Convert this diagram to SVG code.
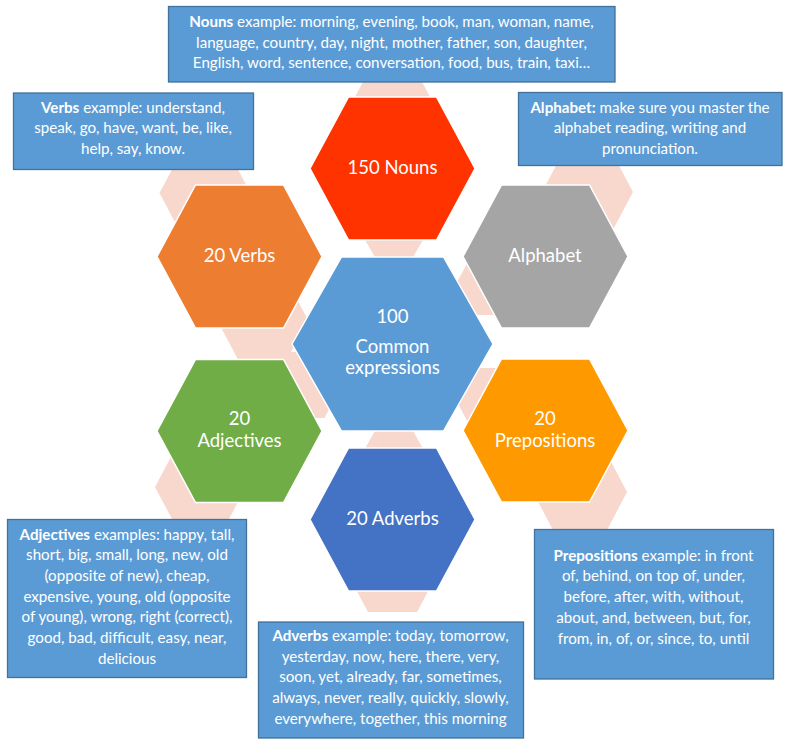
<svg xmlns="http://www.w3.org/2000/svg" width="791" height="748" viewBox="0 0 791 748">
<defs>
<style>
.pale{fill:#F8D7CD}
.hx{stroke:#FFFFFF;stroke-width:1.5}
.box{fill:#5B9BD5;stroke:#41719C;stroke-width:1.3}
.bt{font-family:Lato,"Liberation Sans",sans-serif;font-size:15.15px;fill:#FFFFFF;text-anchor:middle}
.ht{font-family:Lato,"Liberation Sans",sans-serif;font-size:18.5px;fill:#FFFFFF;text-anchor:middle}
.b{font-weight:bold}
</style>
<polygon id="hex" points="-44,-71.5 44,-71.5 82.5,0 44,71.5 -44,71.5 -82.5,0"/>
<polygon id="phex" points="-24.5,-39.4 24.5,-39.4 45.5,0 24.5,39.4 -24.5,39.4 -45.5,0"/>
</defs>
<rect width="791" height="748" fill="#FFFFFF"/>

<g id="connectors">
<use href="#phex" class="pale" transform="translate(392.5,112)"/>
<polygon class="pale" points="361.5,234 426.5,234 410,262 378,262"/>
<use href="#phex" class="pale" transform="translate(205,193)"/>
<use href="#phex" class="pale" transform="translate(262.5,320)"/>
<use href="#phex" class="pale" transform="translate(587.5,192)"/>
<polygon class="pale" points="471.5,255 515.5,255 531.5,285 515.5,315 471.5,315 455.5,285"/>
<polygon class="pale" points="473,368 515,368 532,400 515,432 473,432 456,400"/>
<polygon class="pale" points="554,452 606,452 627,492 606,532 554,532 533,492"/>
<use href="#phex" class="pale" transform="translate(200.5,487)"/>
<polygon class="pale" points="275.5,352 324.5,352 342,385 324.5,418 275.5,418 258,385"/>
<polygon class="pale" points="377.8,426 410.2,426 425.5,453 362.5,453"/>
<use href="#phex" class="pale" transform="translate(392.5,572.6)"/>
</g>

<g id="nouns">
<use href="#hex" class="hx" fill="#FF3300" transform="translate(392.5,168.5)"/>
<text class="ht" x="392.5" y="174">150 Nouns</text>
</g>
<g id="verbs">
<use href="#hex" class="hx" fill="#ED7D31" transform="translate(239.5,256.5)"/>
<text class="ht" x="239.5" y="262">20 Verbs</text>
</g>
<g id="alphabet">
<use href="#hex" class="hx" fill="#A5A5A5" transform="translate(545.5,256.5)"/>
<text class="ht" x="545" y="262">Alphabet</text>
</g>
<g id="adjectives">
<use href="#hex" class="hx" fill="#70AD47" transform="translate(239.5,431)"/>
<text class="ht" x="239.5" y="425">20</text>
<text class="ht" x="239.5" y="447">Adjectives</text>
</g>
<g id="prepositions">
<use href="#hex" class="hx" fill="#FF9900" transform="translate(545.5,430.5)"/>
<text class="ht" x="545" y="425">20</text>
<text class="ht" x="545" y="447">Prepositions</text>
</g>
<g id="adverbs">
<use href="#hex" class="hx" fill="#4472C4" transform="translate(392.5,519.5)"/>
<text class="ht" x="392.5" y="525">20 Adverbs</text>
</g>
<g id="common">
<polygon class="hx" fill="#5B9BD5" points="341.5,257 443.5,257 493,344 443.5,431 341.5,431 292,344"/>
<text class="ht" x="392.5" y="323">100</text>
<text class="ht" x="392.5" y="353">Common</text>
<text class="ht" x="392.5" y="374">expressions</text>
</g>

<g id="nouns-note">
<rect class="box" x="168.5" y="6.5" width="446.5" height="75.5"/>
<text class="bt" x="391.5" y="27"><tspan class="b">Nouns</tspan> example: morning, evening, book, man, woman, name,</text>
<text class="bt" x="391.5" y="47.5">language, country, day, night, mother, father, son, daughter,</text>
<text class="bt" x="391.5" y="68">English, word, sentence, conversation, food, bus, train, taxi…</text>
</g>
<g id="verbs-note">
<rect class="box" x="13.5" y="93" width="240" height="76.5"/>
<text class="bt" x="133" y="112.5"><tspan class="b">Verbs</tspan> example: understand,</text>
<text class="bt" x="133" y="133">speak, go, have, want, be, like,</text>
<text class="bt" x="133" y="153.5">help, say, know.</text>
</g>
<g id="alphabet-note">
<rect class="box" x="518.5" y="92.5" width="263.5" height="73"/>
<text class="bt" x="650" y="112.5"><tspan class="b">Alphabet:</tspan> make sure you master the</text>
<text class="bt" x="650" y="133">alphabet reading, writing and</text>
<text class="bt" x="650" y="153.5">pronunciation.</text>
</g>
<g id="adjectives-note">
<rect class="box" x="7.5" y="519.5" width="239" height="158"/>
<text class="bt" x="127" y="539.5"><tspan class="b">Adjectives</tspan> examples: happy, tall,</text>
<text class="bt" x="127" y="560.2">short, big, small, long, new, old</text>
<text class="bt" x="127" y="580.9">(opposite of new), cheap,</text>
<text class="bt" x="127" y="601.6">expensive, young, old (opposite</text>
<text class="bt" x="127" y="622.3">of young), wrong, right (correct),</text>
<text class="bt" x="127" y="643">good, bad, difficult, easy, near,</text>
<text class="bt" x="127" y="663.7">delicious</text>
</g>
<g id="adverbs-note">
<rect class="box" x="258.5" y="622" width="265" height="116"/>
<text class="bt" x="390.5" y="641"><tspan class="b">Adverbs</tspan> example: today, tomorrow,</text>
<text class="bt" x="390.5" y="661.7">yesterday, now, here, there, very,</text>
<text class="bt" x="390.5" y="682.4">soon, yet, already, far, sometimes,</text>
<text class="bt" x="390.5" y="703.1">always, never, really, quickly, slowly,</text>
<text class="bt" x="390.5" y="723.8">everywhere, together, this morning</text>
</g>
<g id="prepositions-note">
<rect class="box" x="534.5" y="529.5" width="239" height="149.5"/>
<text class="bt" x="653.5" y="560.7"><tspan class="b">Prepositions</tspan> example: in front</text>
<text class="bt" x="653.5" y="581.4">of, behind, on top of, under,</text>
<text class="bt" x="653.5" y="602.1">before, after, with, without,</text>
<text class="bt" x="653.5" y="622.8">about, and, between, but, for,</text>
<text class="bt" x="653.5" y="643.5">from, in, of, or, since, to, until</text>
</g>
</svg>
